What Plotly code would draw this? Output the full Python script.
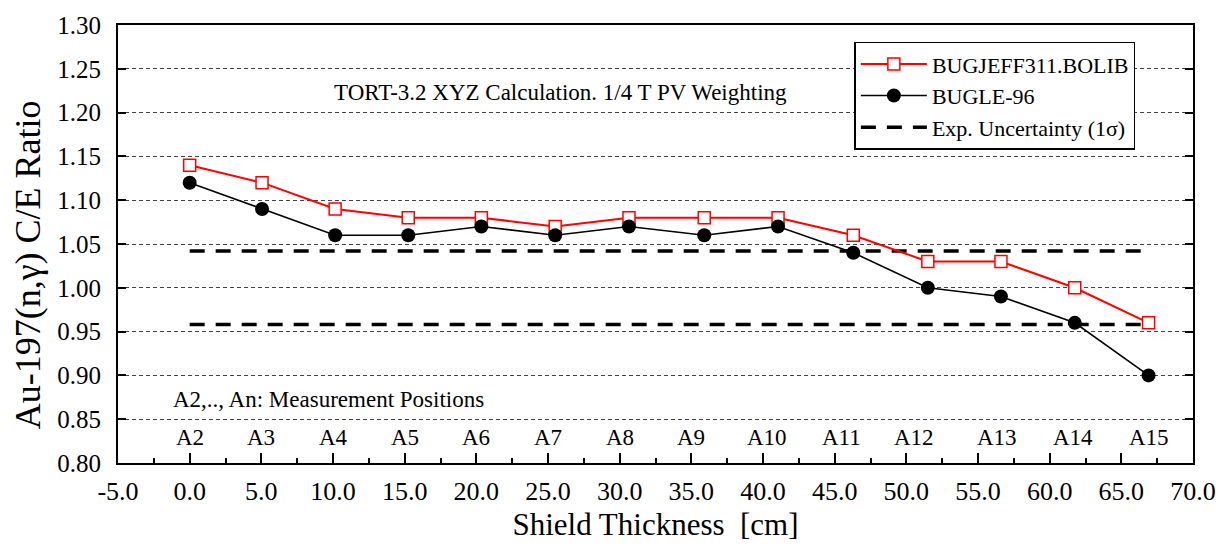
import plotly.graph_objects as go

# Measurement positions along the shield (cm) and their labels
thickness = [0.0, 5.05, 10.15, 15.25, 20.35, 25.5, 30.65, 35.9, 41.05, 46.3, 51.5, 56.6, 61.75, 66.9]
positions = ["A2", "A3", "A4", "A5", "A6", "A7", "A8", "A9", "A10", "A11", "A12", "A13", "A14", "A15"]
label_x = [0.0, 5.0, 10.0, 15.0, 20.0, 25.0, 30.0, 35.0, 40.3, 45.5, 50.5, 56.3, 61.6, 66.9]

# C/E ratios for the two libraries
bugjeff = [1.14, 1.12, 1.09, 1.08, 1.08, 1.07, 1.08, 1.08, 1.08, 1.06, 1.03, 1.03, 1.00, 0.96]
bugle96 = [1.12, 1.09, 1.06, 1.06, 1.07, 1.06, 1.07, 1.06, 1.07, 1.04, 1.00, 0.99, 0.96, 0.90]

# Experimental 1-sigma uncertainty band
exp_unc = 0.042

# Axis tick values (labels use a plain hyphen for negatives)
x_ticks = [-5.0, 0.0, 5.0, 10.0, 15.0, 20.0, 25.0, 30.0, 35.0, 40.0, 45.0, 50.0, 55.0, 60.0, 65.0, 70.0]
x_ticktext = [f"{v:.1f}" for v in x_ticks]

FONT = "Liberation Serif"

# Plot-area edges in pixels
PLOT_L, PLOT_R, PLOT_T, PLOT_B = 118, 1194, 20, 463


def paper_x(px):
    return (px - PLOT_L) / (PLOT_R - PLOT_L)


def paper_y(py):
    return (PLOT_B - py) / (PLOT_B - PLOT_T)


fig = go.Figure()

x0, x1 = thickness[0], thickness[-1]
fig.add_trace(go.Scatter(
    x=[x0, x1, None, x0, x1],
    y=[1 + exp_unc, 1 + exp_unc, None, 1 - exp_unc, 1 - exp_unc],
    mode="lines",
    line=dict(color="black", width=3.5, dash="15px,11px"),
    name="Exp. Uncertainty (1\u03c3)",
    legendrank=3,
))

fig.add_trace(go.Scatter(
    x=thickness, y=bugjeff,
    mode="lines+markers",
    line=dict(color="#ff0000", width=2),
    marker=dict(symbol="square", size=12, color="white",
                line=dict(color="#ff0000", width=1.5)),
    name="BUGJEFF311.BOLIB",
    legendrank=1,
))

fig.add_trace(go.Scatter(
    x=thickness, y=bugle96,
    mode="lines+markers",
    line=dict(color="black", width=1.6),
    marker=dict(symbol="circle", size=14, color="black"),
    name="BUGLE-96",
    legendrank=2,
))

annotations = [
    dict(x=lx, y=0.829, xref="x", yref="y", text=lab, showarrow=False,
         font=dict(family=FONT, size=23, color="black"))
    for lx, lab in zip(label_x, positions)
]
annotations.append(dict(
    x=25.9, y=1.223, xref="x", yref="y",
    text="TORT-3.2 XYZ Calculation. 1/4 T PV Weighting",
    showarrow=False, font=dict(family=FONT, size=23, color="black")))
annotations.append(dict(
    x=-1.3, y=0.8725, xref="x", yref="y", xanchor="left",
    text="A2,.., An: Measurement Positions",
    showarrow=False, font=dict(family=FONT, size=23, color="black")))
# Vertical axis title
annotations.append(dict(
    x=paper_x(28), y=paper_y(263), xref="paper", yref="paper",
    text="Au-197(n,\u03b3) C/E Ratio",
    showarrow=False, textangle=-90, xanchor="center", yanchor="middle",
    font=dict(family=FONT, size=36, color="black")))

fig.update_layout(
    width=1228, height=550,
    margin=dict(l=PLOT_L, r=1228 - PLOT_R, t=PLOT_T, b=550 - PLOT_B),
    paper_bgcolor="white", plot_bgcolor="white",
    font=dict(family=FONT, size=23, color="black"),
    annotations=annotations,
    showlegend=True,
    legend=dict(
        x=0.685, y=0.962, xanchor="left", yanchor="top",
        bgcolor="white", bordercolor="black", borderwidth=1.5,
        font=dict(family=FONT, size=22, color="black"),
        itemwidth=66, tracegroupgap=0,
    ),
    xaxis=dict(
        range=[-5, 70], tickvals=x_ticks, ticktext=x_ticktext,
        ticks="inside", ticklen=10, tickwidth=1.5, tickcolor="black",
        minor=dict(dtick=2.5, tick0=-5, ticks="inside", ticklen=5,
                   tickwidth=1.5, tickcolor="black", showgrid=False),
        showline=True, linecolor="black", linewidth=2, mirror=True,
        showgrid=False, zeroline=False,
        tickfont=dict(family=FONT, size=26, color="black"),
        ticklabelstandoff=4,
        title=dict(text="Shield Thickness&nbsp;&nbsp;[cm]",
                   font=dict(family=FONT, size=31, color="black"), standoff=8),
    ),
    yaxis=dict(
        range=[0.8, 1.3], tick0=0.8, dtick=0.05, tickformat=".2f",
        ticks="inside", ticklen=8, tickwidth=1.5, tickcolor="black",
        showline=True, linecolor="black", linewidth=2, mirror="ticks",
        showgrid=True, gridcolor="#444444", gridwidth=1, griddash="4px,3px",
        zeroline=False,
        tickfont=dict(family=FONT, size=25, color="black"),
        ticklabelstandoff=10,
    ),
)

fig.write_html("out.html")
